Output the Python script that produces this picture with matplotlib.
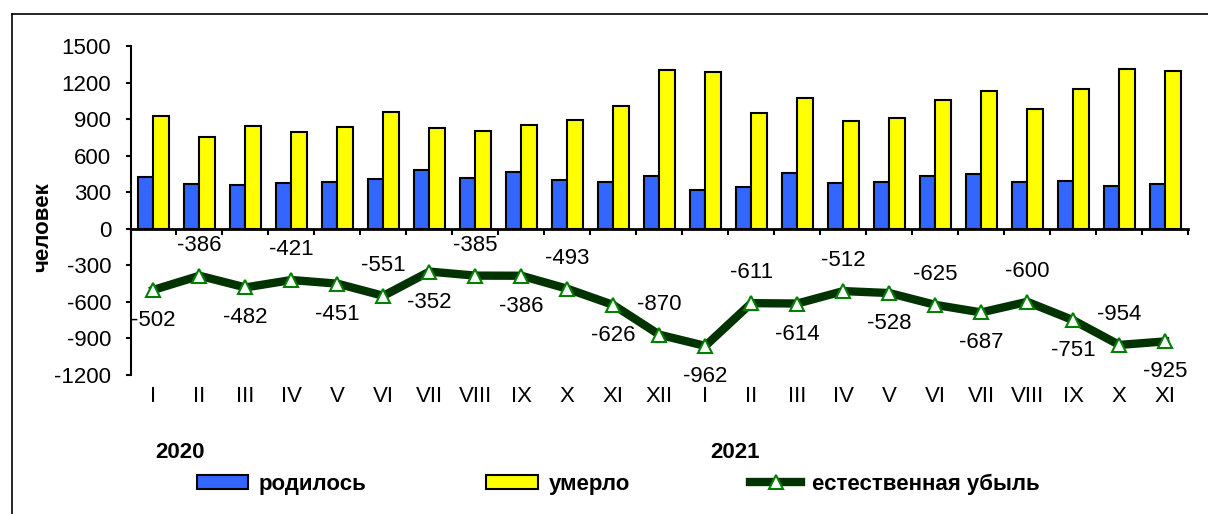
import matplotlib
matplotlib.use('Agg')
import matplotlib.pyplot as plt
import numpy as np
from matplotlib.lines import Line2D

plt.rcParams['font.family'] = ['Liberation Sans', 'DejaVu Sans']
plt.rcParams['axes.unicode_minus'] = False

months = ['I', 'II', 'III', 'IV', 'V', 'VI', 'VII', 'VIII', 'IX', 'X', 'XI', 'XII',
          'I', 'II', 'III', 'IV', 'V', 'VI', 'VII', 'VIII', 'IX', 'X', 'XI']
born = [423, 366, 361, 377, 383, 408, 478, 420, 462, 402, 382, 433,
        321, 339, 457, 375, 385, 435, 447, 383, 394, 354, 371]
died = [925, 752, 843, 798, 834, 959, 830, 805, 848, 895, 1008, 1303,
        1283, 950, 1071, 887, 913, 1060, 1134, 983, 1145, 1308, 1296]
decrease = [-502, -386, -482, -421, -451, -551, -352, -385, -386, -493, -626, -870,
            -962, -611, -614, -512, -528, -625, -687, -600, -751, -954, -925]
years = ['2020', '2021']
series_names = ['родилось', 'умерло', 'естественная убыль']

W, H = 1208, 514
FS = 16

fig = plt.figure(figsize=(W / 100, H / 100), dpi=100)
ax = fig.add_axes([130.5 / W, 1 - 374.9 / H, 1057.7 / W, 328.9 / H])

x = np.arange(len(months))
bw = 0.34
b1 = ax.bar(x - bw / 2, born, bw, color='#3366FF', edgecolor='black', linewidth=1.5,
            label=series_names[0], zorder=2)
b2 = ax.bar(x + bw / 2, died, bw, color='#FFFF00', edgecolor='black', linewidth=1.5,
            label=series_names[1], zorder=2)
ln, = ax.plot(x, decrease, color='#003300', linewidth=6, marker='^', markersize=10,
              markerfacecolor='white', markeredgecolor='#008000', markeredgewidth=1.5,
              label=series_names[2], zorder=4, clip_on=False)

for i, v in enumerate(decrease):
    dy = -22 if i % 2 == 0 else 22
    ax.annotate(str(v), (i, v), xytext=(0, dy), textcoords='offset points',
                ha='center', va='center', fontsize=FS)

ax.set_xlim(-0.5, len(months) - 0.5)
ax.set_ylim(-1200, 1500)
ax.set_yticks(range(-1200, 1501, 300))

for s in ['top', 'right']:
    ax.spines[s].set_visible(False)
ax.spines['left'].set_linewidth(1.5)
ax.spines['bottom'].set_linewidth(2)
ax.spines['bottom'].set_position(('data', 0))
ax.spines['bottom'].set_zorder(3)

ax.set_xticks(x)
ax.set_xticklabels(months)
ax.set_xticks(np.arange(-0.5, len(months), 1), minor=True)
ax.tick_params(axis='x', which='major', length=0, pad=113, labelsize=FS)
ax.tick_params(axis='x', which='minor', length=4.5, width=1.5, direction='out')
ax.tick_params(axis='y', length=3.8, width=1.5, direction='out', pad=10, labelsize=FS)

ax.set_ylabel('человек', fontsize=FS, fontweight='bold')
ax.yaxis.label.set_va('center')
ax.yaxis.set_label_coords((42.5 - 130.5) / 1057.7, (374.9 - 226.7) / 328.9)

# year labels
fig.text(179.5 / W, 1 - 452.7 / H, years[0], ha='center', va='center',
         fontsize=FS, fontweight='bold')
fig.text(735.0 / W, 1 - 452.7 / H, years[1], ha='center', va='center',
         fontsize=FS, fontweight='bold')

# legend
fig.legend([b1, b2, ln], series_names, ncol=3, loc='center left',
           bbox_to_anchor=(196.5 / W, 1 - 484 / H), frameon=False,
           prop={'size': FS, 'weight': 'bold'}, handlelength=2.3,
           handleheight=0.6, handletextpad=0.5, columnspacing=5.4,
           borderpad=0, borderaxespad=0)

# outer frame (left and top)
fig.add_artist(Line2D([12 / W, 12 / W], [0, 1 - 14 / H], transform=fig.transFigure,
                      color='black', linewidth=1.2))
fig.add_artist(Line2D([12 / W, 1], [1 - 14 / H, 1 - 14 / H], transform=fig.transFigure,
                      color='black', linewidth=1.2))

fig.savefig('out.png', dpi=100)
